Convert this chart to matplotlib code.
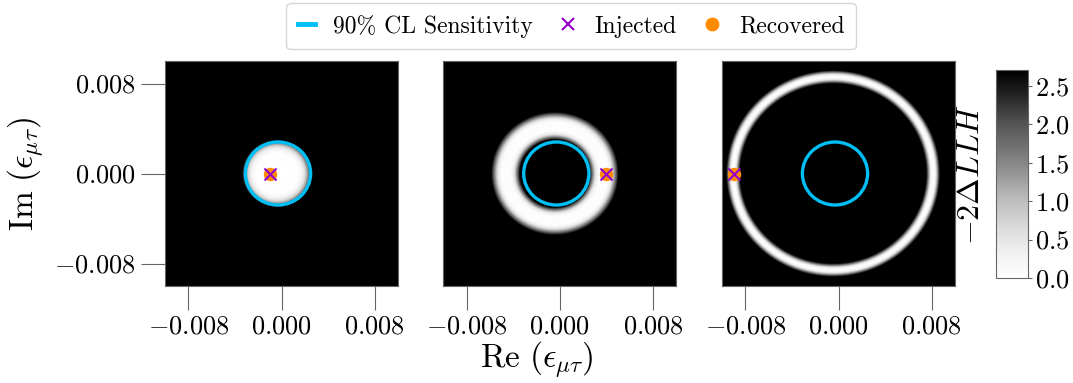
import numpy as np
import matplotlib
matplotlib.use('Agg')
import matplotlib.pyplot as plt
from matplotlib.lines import Line2D
from matplotlib.patches import Circle
from matplotlib.ticker import FuncFormatter

plt.rcParams['font.family'] = 'serif'
plt.rcParams['font.serif'] = ['cmr10']
plt.rcParams['mathtext.fontset'] = 'cm'
plt.rcParams['axes.unicode_minus'] = False

# injected / recovered (Re, Im) of eps_mutau for the three fits
inj_re = [-0.001, 0.004, -0.009]
inj_im = [0.0, 0.0, 0.0]
rec_re = [-0.001, 0.004, -0.009]
rec_im = [0.0, 0.0, 0.0]

# 90% CL sensitivity contour (circle in the complex plane)
sens_re = -0.0003
sens_im = 0.0
sens_radius = 0.0028

# centre of the -2dLLH landscape in each fit
llh_center_re = [-0.0004, -0.0004, -0.00046]

# radial -2dLLH profiles, radius measured from llh centre
prof1_r = [0.0, 0.0018, 0.0021, 0.0024, 0.0027, 0.0030]
prof1_llh = [0.0, 0.02, 0.2, 0.6, 1.5, 2.8]
prof2_r = [0.0, 0.0030, 0.0032, 0.0035, 0.0038, 0.0046, 0.0049, 0.0052, 0.0055]
prof2_llh = [2.8, 2.8, 1.8, 0.5, 0.05, 0.05, 0.5, 1.6, 2.8]
prof3_r = [0.0, 0.0080, 0.0082, 0.0084, 0.0086, 0.0088, 0.0090, 0.0092]
prof3_llh = [2.8, 2.8, 1.5, 0.3, 0.0, 0.3, 1.5, 2.8]

xticks = [-0.008, 0.0, 0.008]
yticks = [-0.008, 0.0, 0.008]
vmax = 2.706  # chi2 90% for 1 dof

blue = '#00bff5'
purple = '#9400d3'
orange = '#ff8c00'
spine_c = '#666666'

fig = plt.figure(figsize=(10.73, 3.83), dpi=100)
W, H = 1073., 383.
lefts = [165, 443.3, 722]
axs = [fig.add_axes([l / W, (H - 286) / H, 233 / W, 225 / H]) for l in lefts]
cax = fig.add_axes([996 / W, (H - 278) / H, 32 / W, 208 / H])

grid = np.linspace(-0.01, 0.01, 500)
X, Y = np.meshgrid(grid, grid)
profiles = [(prof1_r, prof1_llh), (prof2_r, prof2_llh), (prof3_r, prof3_llh)]

fmt = FuncFormatter(lambda v, p: '$%.3f$' % v if abs(v) > 1e-12 else '$0.000$')

for i, ax in enumerate(axs):
    r = np.hypot(X - llh_center_re[i], Y)
    llh = np.interp(r, profiles[i][0], profiles[i][1])
    im = ax.imshow(llh, extent=[-0.01, 0.01, -0.01, 0.01], origin='lower',
                   cmap='Greys', vmin=0, vmax=vmax, aspect='auto',
                   interpolation='bilinear')
    ax.add_patch(Circle((sens_re, sens_im), sens_radius, fill=False,
                        edgecolor=blue, lw=2.4, zorder=3))
    ax.scatter(rec_re[i], rec_im[i], s=75, color=orange, zorder=4)
    ax.scatter(inj_re[i], inj_im[i], s=75, marker='x', color=purple,
               linewidths=1.5, zorder=5)
    ax.set_xlim(-0.01, 0.01)
    ax.set_ylim(-0.01, 0.01)
    ax.set_xticks(xticks)
    ax.xaxis.set_major_formatter(fmt)
    ax.tick_params(axis='both', direction='out', length=17, width=0.8,
                   color=spine_c, labelsize=19, pad=4)
    if i == 0:
        ax.set_yticks(yticks)
        ax.yaxis.set_major_formatter(fmt)
    else:
        ax.set_yticks([])
    for s in ax.spines.values():
        s.set_color(spine_c)
        s.set_linewidth(0.8)

axs[0].set_ylabel(r'$\mathrm{Im}\ (\epsilon_{\mu\tau})$', fontsize=24, labelpad=6)
fig.text(0.5, 0.008, r'$\mathrm{Re}\ (\epsilon_{\mu\tau})$', fontsize=24,
         ha='center', va='bottom')

cb = fig.colorbar(im, cax=cax)
cb.set_ticks([0.0, 0.5, 1.0, 1.5, 2.0, 2.5])
cb.ax.yaxis.set_major_formatter(FuncFormatter(lambda v, p: '$%.1f$' % v))
cb.ax.tick_params(labelsize=19, length=3, width=0.8, color=spine_c, pad=2)
cb.outline.set_edgecolor(spine_c)
cb.outline.set_linewidth(0.8)
cb.ax.yaxis.set_label_position('left')
cb.set_label(r'$-2\Delta LLH$', fontsize=23, labelpad=8)

handles = [
    Line2D([], [], color=blue, lw=3.5),
    Line2D([], [], ls='', marker='x', color=purple, ms=9, mew=1.5),
    Line2D([], [], ls='', marker='o', color=orange, ms=9),
]
labels = ['90% CL Sensitivity', 'Injected', 'Recovered']
fig.legend(handles, labels, loc='upper center', bbox_to_anchor=(571 / W, 1 - 3 / H),
           ncol=3, fontsize=17, frameon=True, fancybox=True, edgecolor='#cccccc',
           handlelength=0.75, handletextpad=0.76, columnspacing=1.1,
           borderpad=0.5, borderaxespad=0)

fig.savefig('out.png', dpi=100)
